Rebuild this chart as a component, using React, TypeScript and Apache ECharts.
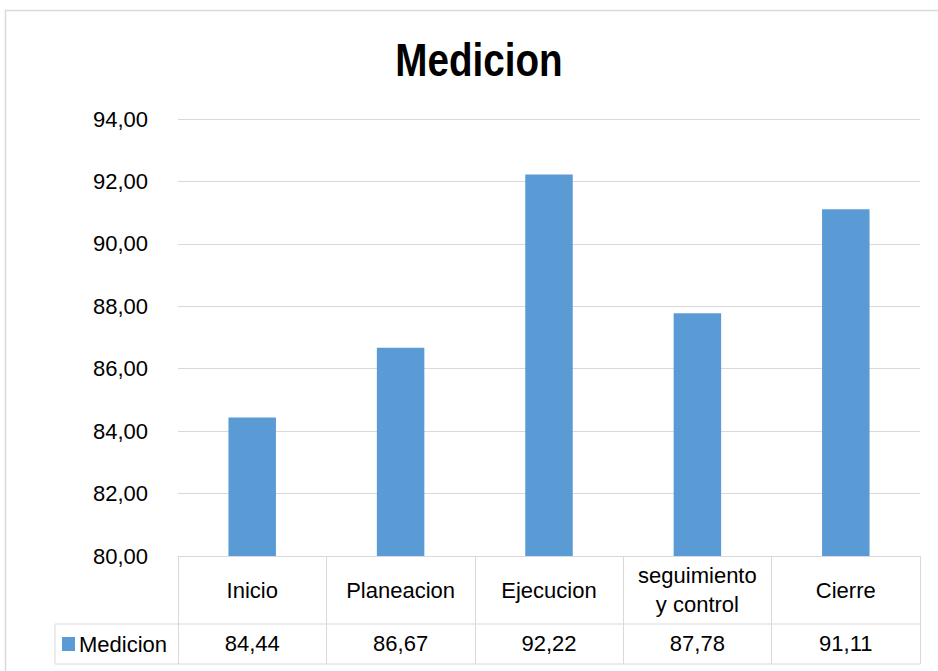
import React, { useEffect, useRef } from "react";
import * as echarts from "echarts";

const title = "Medicion";
const seriesName = "Medicion";
const categories = ["Inicio", "Planeacion", "Ejecucion", "seguimiento\ny control", "Cierre"];
const values = [84.44, 86.67, 92.22, 87.78, 91.11];
const yMin = 80;
const yMax = 94;
const yStep = 2;

const W = 938;
const H = 671;
const FONT = "'Liberation Sans', Arial, sans-serif";
const GRID_L = 178;
const GRID_R = 920;
const GRID_T = 119;
const GRID_B = 556;
const ROW1 = 624;
const ROW2 = 664;
const LEG_L = 55;
const LINE = "#D9D9D9";
const FS = 22;

const fmt = (v: number) => v.toFixed(2).replace(".", ",");

export default function App() {
  const ref = useRef<HTMLDivElement>(null);
  useEffect(() => {
    if (!ref.current) return;
    const chart = echarts.init(ref.current, null, { renderer: "svg" });
    chart.setOption({
      animation: false,
      backgroundColor: "#ffffff",
      legend: {
        left: 62,
        top: 633,
        padding: 0,
        icon: "rect",
        itemWidth: 13,
        itemHeight: 14,
        itemGap: 4,
        textStyle: { fontFamily: FONT, fontSize: FS, color: "#000", padding: [0, 0, 0, -1] },
        data: [seriesName],
      },
      grid: { left: GRID_L, right: W - GRID_R, top: GRID_T, bottom: H - GRID_B },
      xAxis: [
        {
          type: "category",
          data: categories,
          position: "bottom",
          axisLine: { show: true, lineStyle: { color: LINE, width: 1 } },
          axisTick: { show: true, length: ROW2 - GRID_B, lineStyle: { color: LINE, width: 1 } },
          axisLabel: {
            margin: 34,
            verticalAlign: "middle",
            fontFamily: FONT,
            fontSize: FS,
            lineHeight: 29,
            color: "#000",
            interval: 0,
          },
        },
        {
          type: "category",
          data: categories,
          position: "bottom",
          axisLine: { show: false },
          axisTick: { show: false },
          axisLabel: {
            margin: 87,
            verticalAlign: "middle",
            fontFamily: FONT,
            fontSize: FS,
            color: "#000",
            interval: 0,
            formatter: (_v: string, i: number) => fmt(values[i]),
          },
        },
      ],
      yAxis: {
        type: "value",
        min: yMin,
        max: yMax,
        interval: yStep,
        axisLine: { show: false },
        axisTick: { show: false },
        splitLine: { lineStyle: { color: LINE, width: 1 } },
        axisLabel: {
          margin: 30,
          fontFamily: FONT,
          fontSize: FS,
          color: "#000",
          formatter: (v: number) => fmt(v),
        },
      },
      series: [
        {
          name: seriesName,
          type: "bar",
          xAxisIndex: 0,
          data: values,
          barWidth: "32%",
          itemStyle: { color: "#5B9BD5" },
        },
      ],
      graphic: [
        {
          type: "rect",
          shape: { x: 5.5, y: 10.5, width: 1000, height: 1000 },
          style: { fill: "none", stroke: LINE, lineWidth: 1.5 },
          silent: true,
        },
        {
          type: "text",
          x: 479,
          y: 60,
          scaleX: 0.84,
          style: {
            text: title,
            font: `bold 46px ${FONT}`,
            fill: "#000",
            align: "center",
            verticalAlign: "middle",
          },
        },
        {
          type: "line",
          shape: { x1: LEG_L, y1: ROW1, x2: GRID_R, y2: ROW1 },
          style: { stroke: LINE, lineWidth: 1 },
        },
        {
          type: "line",
          shape: { x1: LEG_L, y1: ROW2, x2: GRID_R, y2: ROW2 },
          style: { stroke: LINE, lineWidth: 1 },
        },
        {
          type: "line",
          shape: { x1: LEG_L, y1: ROW1, x2: LEG_L, y2: ROW2 },
          style: { stroke: LINE, lineWidth: 1 },
        },
      ],
    });
    return () => chart.dispose();
  }, []);
  return (
    <div
      ref={ref}
      style={{ position: "fixed", left: 0, top: 0, width: W, height: H, background: "#fff" }}
    />
  );
}
